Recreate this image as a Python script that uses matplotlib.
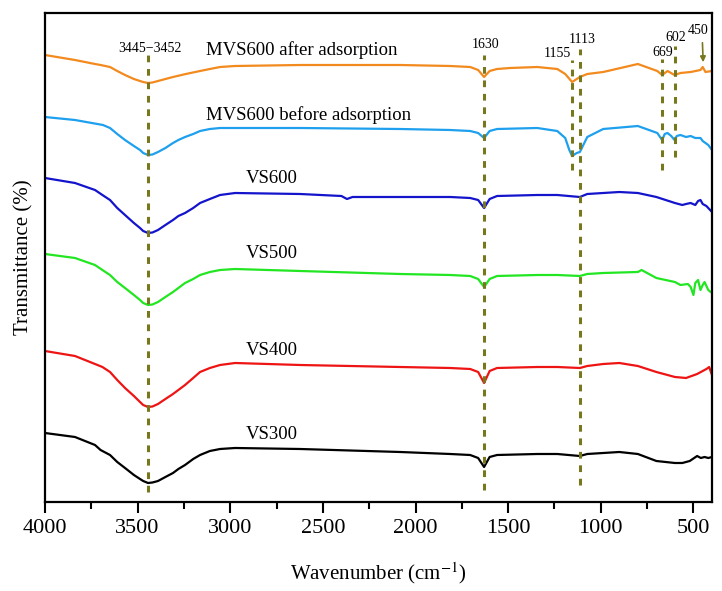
import numpy as np
import matplotlib
matplotlib.use("Agg")
import matplotlib.pyplot as plt

plt.rcParams['font.family'] = ['Liberation Serif', 'DejaVu Serif']
plt.rcParams['mathtext.fontset'] = 'stix'

# FTIR spectra, offset transmittance (arbitrary units)
wn_after = [4000, 3838, 3730, 3700, 3649, 3610, 3568, 3520, 3487, 3470, 3444, 3420, 3390, 3350,
            3309, 3240, 3163, 3110, 3055, 2974, 2623, 2083,
            1813, 1705, 1662, 1630, 1600, 1560, 1490, 1343, 1235, 1192, 1155, 1113, 1073, 987,
            800, 695, 669, 640, 602, 570, 515, 462, 450, 435, 400]
t_after = [447, 442, 438, 437, 435, 431, 427, 423, 421, 420, 419, 419.5, 421, 423,
           425, 428, 431, 433, 435, 436, 437, 437,
           436, 435, 432, 425, 431, 433, 434, 435, 433, 428, 420, 425, 428, 430,
           438, 431, 427, 431, 427, 429, 430, 432, 435, 430, 431]

wn_before = [4000, 3838, 3687, 3649, 3610, 3568, 3520, 3487, 3470, 3444, 3420, 3390, 3350, 3309,
             3280, 3244, 3200, 3163, 3110, 3055, 2623, 2083,
             1813, 1705, 1662, 1630, 1600, 1560, 1343, 1235, 1192, 1170, 1155, 1130, 1113, 1073,
             987, 800, 695, 669, 655, 640, 620, 602, 590, 570, 540, 515, 490, 462, 450, 420, 400]
t_before = [385, 382, 377, 374, 368, 362, 356, 352, 349, 347, 347.5, 350, 354, 359,
            362, 365, 368, 371, 373, 374, 374, 373,
            372, 371, 369, 364, 371, 373, 374, 371, 364, 352, 346, 349, 350, 365,
            373, 376, 369, 362, 368, 369, 366, 362, 366, 367, 365, 366, 364, 364, 361, 357, 352]

wn_vs600 = [4000, 3838, 3730, 3690, 3649, 3610, 3568, 3520, 3487, 3470, 3444, 3420, 3390, 3350,
            3309, 3280, 3244, 3200, 3163, 3110, 3055, 2974, 2623,
            2400, 2370, 2340, 2083, 1813, 1705, 1662, 1630, 1600, 1560, 1343, 1235, 1113, 1073,
            987, 900, 800, 700, 600, 560, 540, 515, 490, 475, 462, 450, 430, 400]
t_vs600 = [324, 319, 312, 307, 302, 294, 287, 279, 274, 271, 269, 269.5, 272, 277,
           282, 286, 289, 294, 299, 303, 307, 309, 308,
           306, 303, 305, 305, 305, 304, 302, 294, 303, 306, 307, 307, 305, 308,
           309, 310, 309, 305, 299, 297, 298, 299, 297, 301, 302, 298, 296, 290]

wn_vs500 = [4000, 3838, 3730, 3690, 3649, 3610, 3568, 3520, 3487, 3470, 3444, 3420, 3390, 3350,
            3309, 3280, 3244, 3200, 3163, 3110, 3055, 2974, 2623,
            2083, 1813, 1705, 1662, 1630, 1600, 1560, 1343, 1235, 1113, 1073, 987, 800, 780,
            700, 600, 570, 530, 515, 500, 490, 475, 462, 450, 440, 420, 400]
t_vs500 = [248, 244, 237, 232, 227, 220, 214, 207, 202, 199, 197, 197.5, 200, 205,
           210, 214, 219, 223, 227, 230, 232, 233, 231,
           228, 227, 226, 223, 215, 223, 226, 227, 227, 226, 228, 229, 230, 232,
           224, 220, 217, 218, 215, 207, 219, 222, 212, 217, 220, 212, 209]

wn_vs400 = [4000, 3838, 3730, 3690, 3649, 3610, 3568, 3520, 3487, 3470, 3444, 3420, 3390, 3350,
            3309, 3280, 3244, 3200, 3163, 3110, 3055, 2974, 2623,
            2083, 1813, 1705, 1662, 1630, 1600, 1560, 1343, 1235, 1113, 1073, 987, 900, 800,
            700, 600, 540, 480, 430, 415, 400]
t_vs400 = [151, 146, 138, 135, 130, 122, 114, 106, 100, 97, 95, 95.5, 98, 103,
           108, 112, 117, 124, 130, 134, 137, 139, 137,
           135, 134, 133, 130, 119, 131, 134, 135, 135, 134, 136, 138, 139, 136,
           130, 125, 124, 128, 133, 135, 127]

wn_vs300 = [4000, 3838, 3730, 3700, 3649, 3610, 3568, 3520, 3487, 3470, 3444, 3420, 3390, 3350,
            3309, 3280, 3244, 3200, 3163, 3110, 3055, 2974, 2623,
            2083, 1813, 1705, 1662, 1630, 1600, 1560, 1343, 1235, 1113, 1073, 987, 900, 800,
            700, 600, 560, 520, 480, 460, 440, 420, 400]
t_vs300 = [69, 65, 57, 52, 47, 40, 34, 27, 23, 21, 19, 19.5, 21, 25,
           29, 33, 37, 43, 47, 51, 53, 54, 53,
           50, 48, 47, 44, 35, 45, 47, 48, 48, 46, 48, 49, 50, 48,
           41, 39, 39, 41, 46, 44, 45, 44, 45]

spectra = [
    (wn_after, t_after, '#F28A1E'),
    (wn_before, t_before, '#1EA0EE'),
    (wn_vs600, t_vs600, '#1414CC'),
    (wn_vs500, t_vs500, '#22E622'),
    (wn_vs400, t_vs400, '#EE1414'),
    (wn_vs300, t_vs300, '#000000'),
]

series_names = ['MVS600 after adsorption', 'MVS600 before adsorption',
                'VS600', 'VS500', 'VS400', 'VS300']

# marked bands
peak_wn = [3445, 1630, 1113, 1155, 669, 602]
peak_text = ['3445\u22123452', '1630', '1113', '1155', '669', '602']

fig = plt.figure(figsize=(7.22, 5.91), dpi=100)
ax = fig.add_axes([0.0623, 0.1506, 0.9238, 0.8274])

for wn, t, col in spectra:
    ax.plot(wn, t, color=col, lw=1.6)

olive = '#77771E'
spans = [(10, 447), (12, 447), (17, 453), (332, 442), (332, 443), (345, 456)]
for w, (y0, y1) in zip(peak_wn, spans):
    ax.plot([w, w], [y0, y1], color=olive, lw=2.2, ls=(0, (2.2, 2.2)))

# peak labels
peak_xy = [(3433, 454), (1624, 458), (1100, 463), (1235, 449), (668, 450), (598, 465)]
for txt, (x, y) in zip(peak_text, peak_xy):
    ax.text(x, y, txt, fontsize=10, ha='center', va='center')
ax.text(474, 472, '450', fontsize=10, ha='center', va='center')
ax.annotate('', xy=(447, 437), xytext=(452, 462),
            arrowprops=dict(arrowstyle='-|>', color=olive, lw=1.2, mutation_scale=8))

# series labels
label_xy = [(3131, 452), (3131, 387), (2774, 323), (2774, 248), (2774, 151), (2774, 67)]
for i, (name, (x, y)) in enumerate(zip(series_names, label_xy)):
    ax.text(x, y, name, fontsize=13.5, ha='left' if i < 2 else 'center', va='center')

ax.set_xlim(4000, 400)
ax.set_ylim(0, 489)
ax.set_xticks([4000, 3500, 3000, 2500, 2000, 1500, 1000, 500])
ax.set_xticks(np.arange(3750, 400, -500), minor=True)
ax.tick_params(axis='x', which='major', direction='out', length=8, width=1.5, labelsize=16, pad=4)
ax.tick_params(axis='x', which='minor', direction='out', length=5, width=1.5)
ax.set_yticks([])
for s in ax.spines.values():
    s.set_linewidth(1.6)

ax.set_xlabel('Wavenumber (cm$^{-1}$)', fontsize=15, labelpad=16)
ax.set_ylabel('Transmittance (%)', fontsize=15, labelpad=8)

fig.savefig('out.png', dpi=100)
